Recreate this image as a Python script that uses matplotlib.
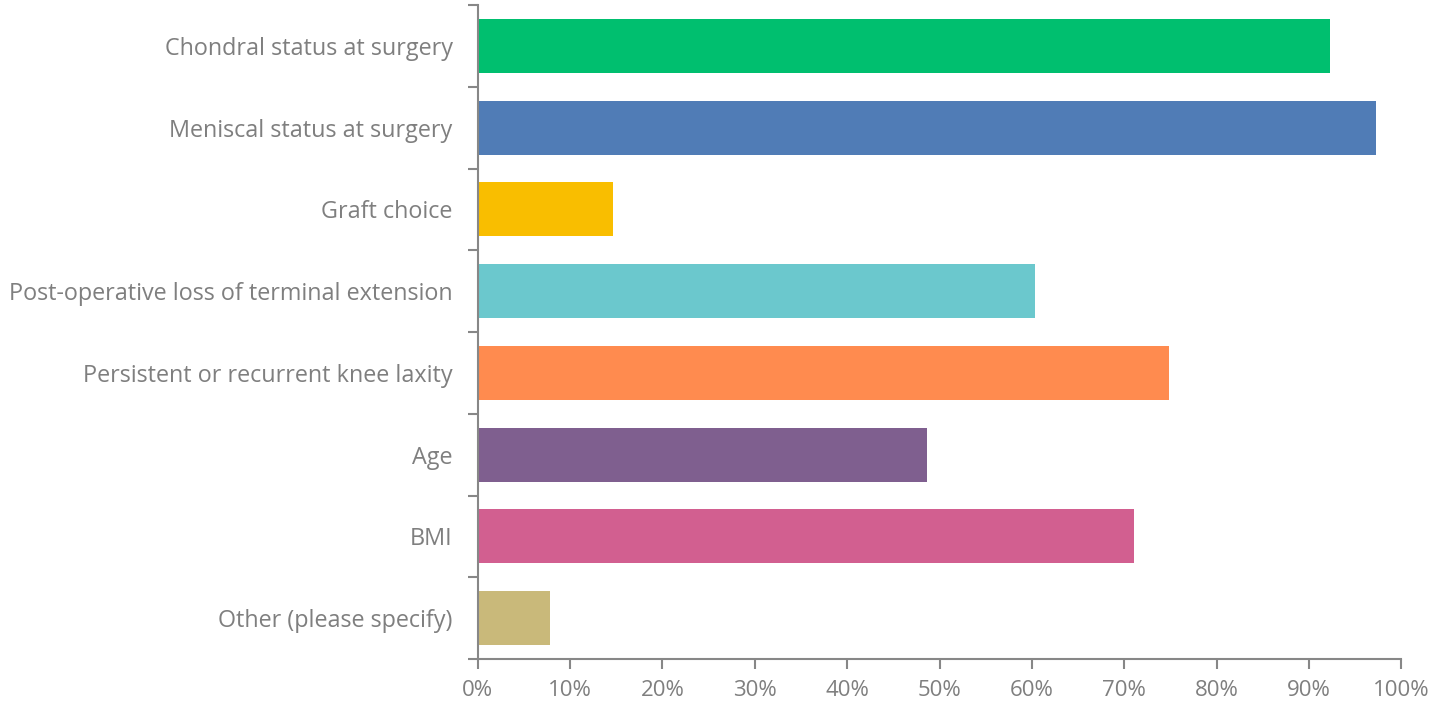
import matplotlib
matplotlib.use("Agg")
import matplotlib.pyplot as plt
import numpy as np
from matplotlib.ticker import FixedLocator, PercentFormatter

categories = ["Chondral status at surgery", "Meniscal status at surgery", "Graft choice",
              "Post-operative loss of terminal extension", "Persistent or recurrent knee laxity",
              "Age", "BMI", "Other (please specify)"]
values = [92.3, 97.2, 14.6, 60.3, 74.8, 48.6, 71.0, 7.8]
colors = ["#00BF6F", "#507CB6", "#F9BE00", "#6BC8CD", "#FF8B4F", "#7F5F8F", "#D25F90", "#C9B97A"]
xticks = list(range(0, 101, 10))

plt.rcParams['font.family'] = ['Open Sans', 'DejaVu Sans']
fig = plt.figure(figsize=(14.41, 7.05), dpi=100)
ax = fig.add_axes([0.3315, 0.0652, 0.6410, 0.9277])

n = len(categories)
ypos = np.arange(n)
ax.barh(ypos, values, height=0.66, color=colors)
ax.set_ylim(n - 0.5, -0.5)
ax.set_xlim(0, 100)

gray = "#878787"
ax.set_yticks(ypos)
ax.set_yticklabels(categories, fontsize=16.8, color="#7f7f7f")
ax.tick_params(axis='y', which='major', length=0, pad=18)
ax.yaxis.set_minor_locator(FixedLocator(np.arange(-0.5, n + 0.5, 1)))
ax.tick_params(axis='y', which='minor', length=7, width=1.5, color=gray, direction='out')

ax.set_xticks(xticks)
ax.xaxis.set_major_formatter(PercentFormatter(decimals=0))
ax.tick_params(axis='x', which='major', length=7, width=1.5, color=gray, labelsize=16,
               labelcolor="#7f7f7f", pad=8)

for s in ['top', 'right']:
    ax.spines[s].set_visible(False)
for s in ['left', 'bottom']:
    ax.spines[s].set_color(gray)
    ax.spines[s].set_linewidth(1.5)

fig.savefig("out.png", dpi=100)
